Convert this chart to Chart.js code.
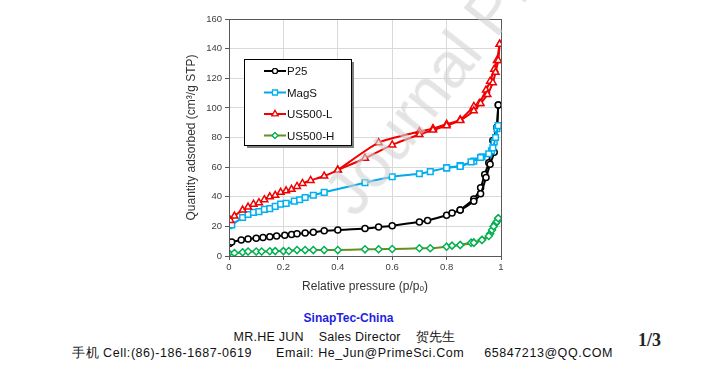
<!DOCTYPE html>
<html>
<head>
<meta charset="utf-8">
<script src="https://cdn.jsdelivr.net/npm/chart.js@4.4.0/dist/chart.umd.min.js"></script>
<style>
  body { margin: 0; background: #fff; width: 705px; height: 371px; overflow: hidden; position: relative; font-family: "Liberation Sans", Arial, sans-serif; }
  #wrap { position: absolute; left: 0; top: 0; width: 705px; height: 300px; }
  #mark { position: absolute; left: 313px; top: 186px; font: 64px/1 "Liberation Sans", Arial, sans-serif; color: rgba(210,210,210,0.6); transform: rotate(-52deg); transform-origin: 0 0; white-space: nowrap; pointer-events: none; }
  .foot { position: absolute; left: 0; width: 705px; text-align: center; white-space: nowrap; }
  #l1 { top: 311px; left: -4px; color: #1f1fe0; font-weight: bold; font-size: 12px; }
  #l2 { top: 329px; left: -8px; font-size: 12.5px; letter-spacing: 0.25px; color: #111; }
  #l3 { top: 345px; font-size: 12.5px; letter-spacing: 0.55px; color: #111; left: 72px; width: auto; text-align: left; }
  #page { position: absolute; left: 638px; top: 330px; font: bold 18px "Liberation Serif", serif; color: #222; }
</style>
</head>
<body>
<div id="wrap"><canvas id="chart"></canvas></div>
<div id="mark">Journal Pre-proof</div>
<div class="foot" id="l1">SinapTec-China</div>
<div class="foot" id="l2">MR.HE JUN&nbsp;&nbsp;&nbsp; Sales Director&nbsp;&nbsp;&nbsp; 贺先生</div>
<div class="foot" id="l3">手机 Cell:(86)-186-1687-0619&nbsp;&nbsp;&nbsp;&nbsp;&nbsp; Email: He_Jun@PrimeSci.Com&nbsp;&nbsp;&nbsp;&nbsp; 65847213@QQ.COM</div>
<div id="page">1/3</div>
<script>
// isotherm data (relative pressure / quantity adsorbed)
const p25AdsP = [0.002, 0.01, 0.045, 0.07, 0.1, 0.125, 0.15, 0.175, 0.205, 0.23, 0.25, 0.28, 0.31, 0.35, 0.4, 0.5, 0.55, 0.6, 0.7, 0.73, 0.8, 0.82, 0.85, 0.9, 0.925, 0.945, 0.96, 0.975, 0.985, 0.99];
const p25AdsV = [8.5, 9.5, 10.8, 11.5, 12, 12.5, 13, 13.5, 14, 14.5, 15, 15.5, 16, 17, 17.5, 18.5, 19.5, 20.5, 23, 24, 27.5, 29, 31, 37, 42, 53, 62, 70, 87, 102];
const p25DesP = [0.99, 0.985, 0.97, 0.955, 0.94, 0.925, 0.9, 0.85];
const p25DesV = [102, 87, 78, 63, 55, 46, 38.5, 31];

const magAdsP = [0.0, 0.01, 0.05, 0.07, 0.09, 0.11, 0.13, 0.15, 0.17, 0.19, 0.21, 0.24, 0.26, 0.28, 0.31, 0.35, 0.5, 0.6, 0.7, 0.74, 0.8, 0.85, 0.89, 0.925, 0.955, 0.97, 0.98, 0.99];
const magAdsV = [20.5, 21, 26, 28, 29.5, 30, 31.5, 32, 33.5, 35, 35.5, 37, 38, 39.5, 41, 43, 49.5, 53.5, 55.5, 57, 59.5, 60.5, 63.5, 66.5, 69, 73, 80, 88];
const magDesP = [0.99, 0.985, 0.975, 0.965, 0.93, 0.9, 0.85, 0.8];
const magDesV = [88, 86, 77, 71, 67, 64, 61, 59.5];

const usLAdsP = [0.005, 0.02, 0.05, 0.07, 0.09, 0.11, 0.13, 0.15, 0.17, 0.19, 0.21, 0.23, 0.25, 0.27, 0.3, 0.35, 0.4, 0.5, 0.6, 0.7, 0.75, 0.8, 0.85, 0.9, 0.925, 0.95, 0.97, 0.98, 0.99, 0.995];
const usLAdsV = [24, 27, 31, 33, 35, 36, 38, 40, 41, 43, 44, 45, 47, 49, 51, 54, 58, 66, 75, 82, 85, 88, 91.5, 98, 103, 109, 117, 124, 132, 143];
const usLDesP = [0.995, 0.985, 0.975, 0.96, 0.945, 0.92, 0.9, 0.85, 0.8, 0.75, 0.7, 0.55, 0.4];
const usLDesV = [143, 132, 126, 118, 112, 103, 101, 92, 89, 86, 84, 76.5, 58];

const usHAdsP = [0.0, 0.02, 0.05, 0.07, 0.1, 0.12, 0.15, 0.17, 0.2, 0.22, 0.25, 0.28, 0.31, 0.35, 0.4, 0.5, 0.55, 0.6, 0.7, 0.74, 0.8, 0.82, 0.85, 0.89, 0.9, 0.93, 0.955, 0.967, 0.973, 0.985, 0.99];
const usHAdsV = [1.8, 2, 2.5, 3, 3, 3, 3.2, 3.3, 3.3, 3.4, 4, 4, 4, 4, 4, 4.5, 4.6, 4.7, 5.2, 5.2, 6.3, 7, 7.4, 9, 9, 10.8, 13.5, 17.6, 20, 23.2, 25.5];
const usHDesP = [0.99, 0.98, 0.96, 0.93, 0.9, 0.85];
const usHDesV = [25.5, 22, 15, 11, 9, 7.4];

const seriesNames = ['P25', 'MagS', 'US500-L', 'US500-H'];
const xTicks = [0, 0.2, 0.4, 0.6, 0.8, 1];

const pts = (xs, ys) => xs.map((x, i) => ({ x: x, y: ys[i] }));

const styles = [
  { line: '#000000', mark: '#000000', shape: 'circle', r: 3 },
  { line: '#00a8ec', mark: '#00b0f0', shape: 'rect', r: 4 },
  { line: '#f00000', mark: '#f00000', shape: 'triangle', r: 4 },
  { line: '#6b8e23', mark: '#00b050', shape: 'rectRot', r: 3.5 }
];
const allData = [
  [pts(p25AdsP, p25AdsV), pts(p25DesP, p25DesV)],
  [pts(magAdsP, magAdsV), pts(magDesP, magDesV)],
  [pts(usLAdsP, usLAdsV), pts(usLDesP, usLDesV)],
  [pts(usHAdsP, usHAdsV), pts(usHDesP, usHDesV)]
];

const datasets = [];
allData.forEach((pair, i) => {
  const s = styles[i];
  pair.forEach((d, j) => {
    datasets.push({
      label: j === 0 ? seriesNames[i] : '',
      data: d,
      borderColor: s.line,
      borderWidth: 2,
      pointStyle: s.shape,
      pointRadius: s.r,
      pointBorderColor: s.mark,
      pointBackgroundColor: '#ffffff',
      pointBorderWidth: 1.5,
      tension: 0.2,
      order: 10 - i
    });
  });
});

// legend box drawn inside the plot, plus the frame round the plot
const framePlugin = {
  id: 'frame',
  afterDraw(chart) {
    const c = chart.ctx, a = chart.chartArea;
    c.save();
    c.strokeStyle = '#595959';
    c.lineWidth = 1;
    c.strokeRect(a.left + 0.5, a.top + 0.5, a.right - a.left, a.bottom - a.top);

    // legend
    const bx = 244, by = 59, bw = 107, bh = 86;
    c.fillStyle = '#808080';
    c.fillRect(bx + 3, by + 3, bw, bh);
    c.fillStyle = '#fff';
    c.fillRect(bx, by, bw, bh);
    c.strokeStyle = '#000';
    c.strokeRect(bx + 0.5, by + 0.5, bw, bh);
    c.font = '11.5px "Liberation Sans", Arial, sans-serif';
    c.textBaseline = 'middle';
    seriesNames.forEach((name, i) => {
      const s = styles[i];
      const y = by + 12 + i * 21.5;
      c.strokeStyle = s.line;
      c.lineWidth = 2;
      c.beginPath();
      c.moveTo(264, y);
      c.lineTo(286, y);
      c.stroke();
      c.fillStyle = '#fff';
      c.strokeStyle = s.mark;
      c.lineWidth = 1.2;
      Chart.helpers.drawPoint(c, { pointStyle: s.shape, radius: s.r - 0.5, borderWidth: 1.2 }, 275, y);
      c.fill();
      c.stroke();
      c.fillStyle = '#111';
      c.fillText(name, 287, y + 1);
    });
    c.restore();
  }
};

new Chart(document.getElementById('chart'), {
  type: 'line',
  data: { datasets: datasets },
  options: {
    responsive: true,
    maintainAspectRatio: false,
    animation: false,
    layout: { padding: { left: 180, right: 204, top: 19, bottom: 6 } },
    plugins: { legend: { display: false }, tooltip: { enabled: false } },
    scales: {
      x: {
        type: 'linear',
        min: 0,
        max: 1,
        afterBuildTicks: (scale) => { scale.ticks = xTicks.map(v => ({ value: v })); },
        afterFit: (scale) => { scale.height = 38; },
        grid: { color: '#d9d9d9', tickColor: '#595959', tickLength: 4 },
        border: { display: false },
        ticks: { color: '#404040', font: { size: 9.5 }, padding: 2, callback: v => String(v) },
        title: { display: true, text: 'Relative pressure (p/pₒ)', color: '#333', font: { size: 12 }, padding: { top: 0, bottom: 0 } }
      },
      y: {
        min: 0,
        max: 160,
        afterFit: (scale) => { scale.width = 49; },
        grid: { color: '#d9d9d9', tickColor: '#595959', tickLength: 4 },
        border: { display: false },
        ticks: { stepSize: 20, color: '#404040', font: { size: 9.5 }, padding: 3 },
        title: { display: true, text: 'Quantity adsorbed (cm³/g STP)', color: '#333', font: { size: 12 }, padding: { bottom: 4 } }
      }
    }
  },
  plugins: [framePlugin]
});
</script>
</body>
</html>
